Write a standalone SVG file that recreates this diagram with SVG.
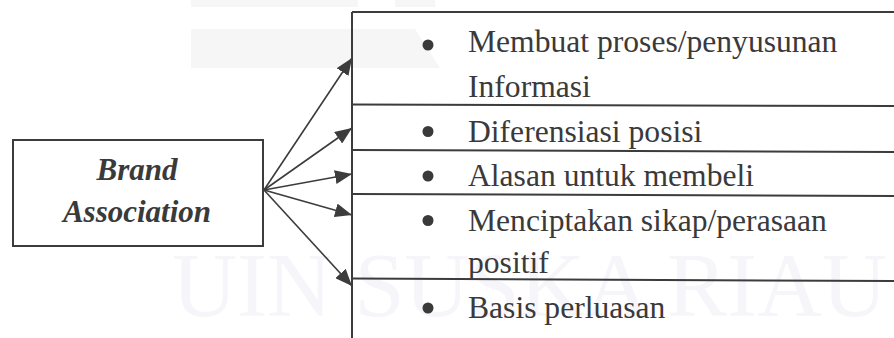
<svg xmlns="http://www.w3.org/2000/svg" width="894" height="338" viewBox="0 0 894 338">
<style>
.wm{font-family:"Liberation Serif",serif;font-size:90px;fill:#f5f5fa}
.wms{fill:#f6f6f6}
.ln{stroke:#3c3c3c;stroke-width:2;fill:none}
.ar{stroke:#3c3c3c;stroke-width:1.6;fill:none;marker-end:url(#ah)}
.tx{font-family:"Liberation Serif","Times New Roman",serif;font-size:31.6px;fill:#3a3a3a}
.bx{font-family:"Liberation Serif","Times New Roman",serif;font-size:31px;font-weight:bold;font-style:italic;fill:#3a3a3a;text-anchor:middle}
.bl{fill:#3a3a3a}
</style>
<defs>
<marker id="ah" markerUnits="userSpaceOnUse" markerWidth="18" markerHeight="14" refX="17" refY="7" orient="auto">
<path d="M0,0 L17,7 L0,14 Z" fill="#3c3c3c"/>
</marker>
</defs>
<rect width="894" height="338" fill="#ffffff"/>
<g id="watermark">
<rect class="wms" x="191" y="0" width="167" height="7"/>
<rect class="wms" x="395" y="0" width="40" height="7"/>
<polygon class="wms" points="191,29 415,29 440,68 191,68"/>
<text class="wm" x="172" y="316">UIN SUSKA RIAU</text>
</g>
<g id="brand-association">
<rect x="13" y="140" width="250" height="106" fill="none" stroke="#3c3c3c" stroke-width="2"/>
<text class="bx" x="137" y="180">Brand</text>
<text class="bx" x="137" y="222">Association</text>
</g>
<g id="list-frame">
<path class="ln" d="M352,12 L894,12 M352,12 L352,338"/>
</g>
<g id="item-1">
<circle class="bl" cx="428" cy="45" r="5.5"/>
<text class="tx" x="468" y="52">Membuat proses/penyusunan</text>
<text class="tx" x="468" y="97">Informasi</text>
<path class="ln" d="M352,104.5 L894,106"/>
</g>
<g id="item-2">
<circle class="bl" cx="428" cy="131.5" r="5.5"/>
<text class="tx" x="468" y="141.5">Diferensiasi posisi</text>
<path class="ln" d="M352,150 L894,152"/>
</g>
<g id="item-3">
<circle class="bl" cx="428" cy="176" r="5.5"/>
<text class="tx" x="468" y="186">Alasan untuk membeli</text>
<path class="ln" d="M352,194 L894,196"/>
</g>
<g id="item-4">
<circle class="bl" cx="428" cy="220.5" r="5.5"/>
<text class="tx" x="468" y="231">Menciptakan sikap/perasaan</text>
<text class="tx" x="468" y="273">positif</text>
<path class="ln" d="M352,278.5 L894,281"/>
</g>
<g id="item-5">
<circle class="bl" cx="428" cy="308" r="5.5"/>
<text class="tx" x="468" y="318">Basis perluasan</text>
</g>
<g id="connectors">
<line class="ar" x1="264" y1="190" x2="352" y2="58"/>
<line class="ar" x1="264" y1="190" x2="352" y2="128"/>
<line class="ar" x1="264" y1="190" x2="352" y2="174"/>
<line class="ar" x1="264" y1="190" x2="352" y2="215"/>
<line class="ar" x1="264" y1="190" x2="352" y2="286"/>
</g>
</svg>
